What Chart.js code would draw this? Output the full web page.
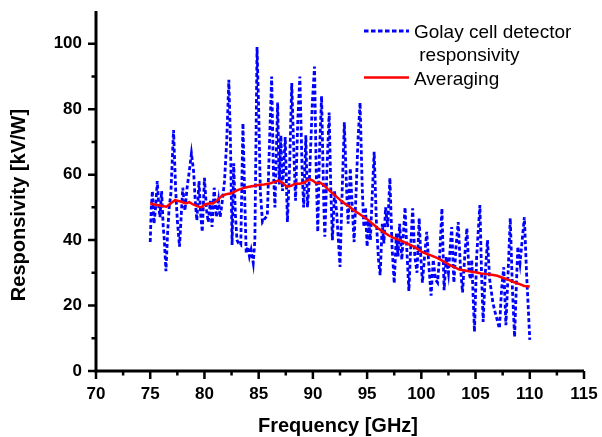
<!DOCTYPE html>
<html>
<head>
<meta charset="utf-8">
<script src="https://cdn.jsdelivr.net/npm/chart.js@4.4.1/dist/chart.umd.min.js"></script>
<style>
  html, body { margin: 0; padding: 0; background: #fff; }
  canvas { display: block; }
</style>
</head>
<body>
<canvas id="chart" width="602" height="437"></canvas>
<script>
// Values (frequency in GHz, responsivity in kV/W).
const blueFreq = [
  75.0, 75.1, 75.2, 75.35, 75.5, 75.65, 75.8, 75.9, 76.05, 76.2, 76.3, 76.45, 76.6, 76.75, 76.9,
  77.15, 77.35, 77.5, 77.7, 77.9, 78.0, 78.2, 78.4, 78.6, 78.8, 79.0, 79.15, 79.3, 79.5, 79.65,
  79.8, 80.0, 80.2, 80.35, 80.55, 80.7, 80.9, 81.1, 81.3, 81.45, 81.65, 81.85, 82.05, 82.25, 82.4,
  82.55, 82.7, 82.85, 83.0, 83.15, 83.35, 83.55, 83.7, 83.85, 84.0, 84.15, 84.3, 84.5, 84.65, 84.85,
  85.0, 85.15, 85.35, 85.55, 85.8, 86.0, 86.2, 86.35, 86.5, 86.75, 86.9, 87.05, 87.2, 87.45, 87.65,
  87.85, 88.05, 88.25, 88.4, 88.6, 88.8, 89.0, 89.15, 89.35, 89.5, 89.7, 89.95, 90.15, 90.3, 90.45,
  90.6, 90.8, 91.0, 91.1, 91.3, 91.5, 91.65, 91.8, 92.0, 92.2, 92.5, 92.7, 92.9, 93.1, 93.25,
  93.45, 93.6, 93.8, 94.0, 94.15, 94.35, 94.55, 94.7, 94.85, 95.0, 95.15, 95.3, 95.45, 95.65, 95.85,
  96.05, 96.2, 96.4, 96.55, 96.7, 96.9, 97.1, 97.3, 97.5, 97.7, 97.85, 98.0, 98.2, 98.5, 98.65,
  98.85, 99.05, 99.2, 99.4, 99.6, 99.8, 99.95, 100.1, 100.3, 100.5, 100.7, 100.9, 101.1, 101.3, 101.5,
  101.7, 101.9, 102.1, 102.3, 102.5, 102.8, 103.0, 103.2, 103.4, 103.6, 103.8, 104.0, 104.2, 104.4, 104.55,
  104.65, 104.9, 105.1, 105.4, 105.55, 105.7, 105.9, 106.1, 106.3, 106.6, 106.8, 107.2, 107.4, 107.6, 107.8,
  108.0, 108.2, 108.4, 108.6, 108.75, 108.9, 109.1, 109.3, 109.5, 109.7, 109.85, 110.0
];
const blueValue = [
  39.4, 50, 55, 45, 50, 58, 50, 47, 55, 44, 40, 30.5, 42, 50, 54,
  73.6, 55, 46, 38, 50, 56, 49, 56, 61, 66.5, 61, 52, 46, 58, 48,
  42.5, 59, 49, 45.5, 52, 44, 56, 47, 52, 47, 52, 58, 70, 89, 70,
  38.5, 63.5, 48, 40, 39, 38.5, 75.7, 55, 36, 38, 35, 37, 33, 40, 99,
  80, 55, 45.5, 46.5, 47.5, 70, 90, 62, 50, 82, 57, 72, 55, 71.5, 45.5,
  62, 88, 66, 52, 76, 90, 62, 50, 72, 50, 60, 82, 93, 62, 42.5,
  66, 84, 52, 41, 62, 79, 56, 40, 55, 48, 31.8, 55, 76, 56, 45,
  62, 52, 39.4, 56, 70, 82, 56, 44, 50, 38, 46, 40, 52, 67, 46,
  34, 29.3, 45, 39, 50, 44, 59, 38, 26.8, 42, 35, 45, 34, 50, 38,
  24.5, 40, 49.7, 35, 30, 46.7, 35, 27, 35, 42.5, 32, 23, 34, 28, 27,
  36, 49.7, 24.7, 35, 30, 44, 27, 38, 45.5, 32, 24, 35, 43.6, 30, 28,
  34, 12, 35, 50.7, 30, 15, 30, 40, 28, 20.8, 18, 13, 25, 31.7, 14,
  30, 46.7, 25, 10.4, 25, 38, 33, 40, 47, 30, 20, 9.5
];

const avgFreq = [
  75, 75.5, 76, 76.5, 77, 77.3, 77.8, 78.3, 78.6, 79.0, 79.4, 79.7, 80.0, 80.4, 80.8,
  81.2, 81.6, 82.0, 82.5, 83.0, 83.5, 84.0, 84.5, 85.0, 85.5, 86.0, 86.5, 86.8, 87.2, 87.6,
  88.0, 88.4, 88.8, 89.2, 89.7, 90.0, 90.3, 90.7, 91.0, 91.4, 91.8, 92.2, 92.6, 93.0, 93.4,
  93.8, 94.2, 94.6, 95.0, 95.5, 96.0, 96.5, 97.0, 97.5, 98.0, 98.5, 99.0, 99.5, 100.0, 100.5,
  101.0, 101.5, 102.0, 102.5, 103.0, 103.5, 104.0, 104.5, 105.0, 105.5, 106.0, 106.5, 107.0, 107.5, 108.0,
  108.5, 109.0, 109.5, 110.0
];
const avgValue = [
  51.2, 50.8, 50.5, 50.2, 51.5, 52.2, 51.8, 51.2, 51.6, 50.8, 50.3, 50.0, 50.8, 51.2, 51.2,
  52.2, 53.5, 54.0, 54.3, 55.2, 55.8, 56.2, 56.5, 56.8, 57.0, 57.3, 57.8, 58.2, 57.5, 56.3,
  56.6, 57.3, 57.2, 57.6, 58.6, 58.2, 57.4, 57.5, 56.8, 55.5, 54.3, 53.2, 52.0, 51.0, 50.2,
  49.0, 48.2, 47.3, 46.4, 45.0, 43.6, 42.5, 41.4, 40.6, 40.0, 39.2, 38.5, 37.6, 36.5, 35.8,
  35.2, 34.5, 33.6, 32.6, 31.8, 31.0, 30.7, 30.4, 30.2, 29.8, 29.6, 29.4, 29.1, 28.5, 27.9,
  27.2, 26.6, 26.0, 25.8
];

const xMajorTicks = [70, 75, 80, 85, 90, 95, 100, 105, 110, 115];
const xMinorTicks = [72.5, 77.5, 82.5, 87.5, 92.5, 97.5, 102.5, 107.5, 112.5];
const yMajorTicks = [0, 20, 40, 60, 80, 100];
const yMinorTicks = [10, 30, 50, 70, 90];

const xTitle = "Frequency [GHz]";
const yTitle = "Responsivity [kV/W]";
const legendLines = ["Golay cell detector", " responsivity", "Averaging"];

const FONT = '"Liberation Sans", Arial, sans-serif';

// Origin-style axes: thick left/bottom lines, outward major + minor ticks,
// axis titles and the boxless legend in the top-right corner.
const originDecor = {
  id: "originDecor",
  afterDraw(chart) {
    const { ctx, chartArea: a } = chart;
    const x = chart.scales.x;
    const y = chart.scales.y;
    ctx.save();
    ctx.strokeStyle = "#000";
    ctx.lineCap = "butt";

    ctx.lineWidth = 2.5;
    ctx.beginPath();
    xMajorTicks.forEach((v) => {
      const px = x.getPixelForValue(v);
      ctx.moveTo(px, a.bottom);
      ctx.lineTo(px, a.bottom + 8);
    });
    xMinorTicks.forEach((v) => {
      const px = x.getPixelForValue(v);
      ctx.moveTo(px, a.bottom);
      ctx.lineTo(px, a.bottom + 4.5);
    });
    yMajorTicks.forEach((v) => {
      const py = y.getPixelForValue(v);
      ctx.moveTo(a.left, py);
      ctx.lineTo(a.left - 8, py);
    });
    yMinorTicks.forEach((v) => {
      const py = y.getPixelForValue(v);
      ctx.moveTo(a.left, py);
      ctx.lineTo(a.left - 4.5, py);
    });
    ctx.stroke();

    ctx.lineWidth = 3;
    ctx.beginPath();
    ctx.moveTo(a.left, a.top);
    ctx.lineTo(a.left, a.bottom);
    ctx.lineTo(a.right, a.bottom);
    ctx.stroke();

    // axis titles
    ctx.fillStyle = "#000";
    ctx.font = "bold 20px " + FONT;
    ctx.textAlign = "center";
    ctx.textBaseline = "alphabetic";
    ctx.fillText(xTitle, 338, 432);
    ctx.save();
    ctx.translate(25, 205);
    ctx.rotate(-Math.PI / 2);
    ctx.fillText(yTitle, 0, 0);
    ctx.restore();

    // legend
    ctx.font = "19px " + FONT;
    ctx.textAlign = "left";
    ctx.fillText(legendLines[0], 414, 37.5);
    ctx.fillText(legendLines[1], 414, 61);
    ctx.fillText(legendLines[2], 414, 85);

    ctx.lineWidth = 2.8;
    ctx.strokeStyle = "#0000ff";
    ctx.setLineDash([4.5, 2.5]);
    ctx.beginPath();
    ctx.moveTo(364, 31);
    ctx.lineTo(409, 31);
    ctx.stroke();

    ctx.setLineDash([]);
    ctx.strokeStyle = "#ff0000";
    ctx.lineWidth = 2.5;
    ctx.beginPath();
    ctx.moveTo(364, 77.5);
    ctx.lineTo(409, 77.5);
    ctx.stroke();

    ctx.restore();
  },
};

const tickFont = { family: FONT, size: 17, weight: "bold" };

new Chart(document.getElementById("chart").getContext("2d"), {
  type: "scatter",
  data: {
    datasets: [
      {
        label: legendLines[0] + legendLines[1],
        data: blueFreq.map((f, i) => ({ x: f, y: blueValue[i] })),
        showLine: true,
        borderColor: "#0000ff",
        borderWidth: 2.8,
        borderDash: [4, 2.5],
        pointRadius: 0,
        tension: 0,
        order: 1,
      },
      {
        label: legendLines[2],
        data: avgFreq.map((f, i) => ({ x: f, y: avgValue[i] })),
        showLine: true,
        borderColor: "#ff0000",
        borderWidth: 2.5,
        pointRadius: 0,
        tension: 0,
        order: 0,
      },
    ],
  },
  options: {
    responsive: false,
    animation: false,
    events: [],
    layout: { padding: { top: 11, right: 18, left: 0, bottom: 0 } },
    scales: {
      x: {
        type: "linear",
        min: 70,
        max: 115,
        grid: { display: false },
        border: { display: false },
        afterBuildTicks: (s) => { s.ticks = xMajorTicks.map((v) => ({ value: v })); },
        afterFit: (s) => { s.height = 66; s.paddingLeft = 0; s.paddingRight = 0; },
        ticks: { font: tickFont, color: "#000", padding: 5, maxRotation: 0, autoSkip: false },
      },
      y: {
        type: "linear",
        min: 0,
        max: 110,
        grid: { display: false },
        border: { display: false },
        afterBuildTicks: (s) => { s.ticks = yMajorTicks.map((v) => ({ value: v })); },
        afterFit: (s) => { s.width = 96; s.paddingTop = 0; s.paddingBottom = 0; },
        ticks: { font: tickFont, color: "#000", padding: 6 },
      },
    },
    plugins: {
      legend: { display: false },
      tooltip: { enabled: false },
    },
  },
  plugins: [originDecor],
});
</script>
</body>
</html>
